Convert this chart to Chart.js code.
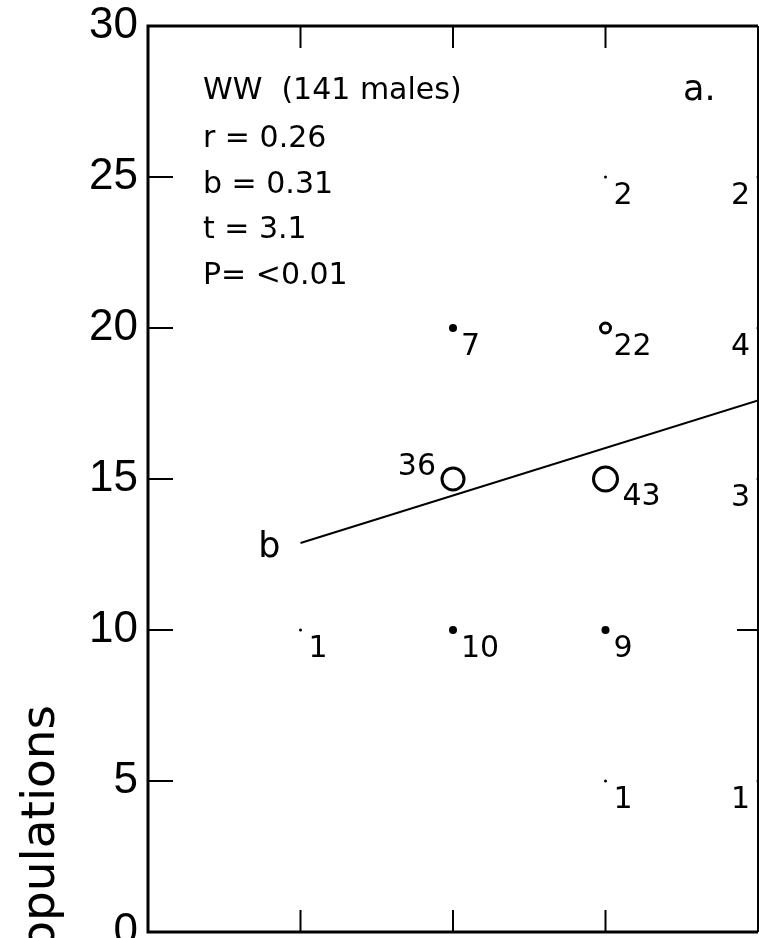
<!DOCTYPE html>
<html>
<head>
<meta charset="utf-8">
<script src="https://cdn.jsdelivr.net/npm/chart.js@4/dist/chart.umd.min.js"></script>
<style>
  html, body { margin: 0; padding: 0; background: #fff; overflow: hidden; }
  #wrap { width: 759px; height: 938px; }
</style>
</head>
<body>
<div id="wrap"><canvas id="chart" width="759" height="938"></canvas></div>
<script>
// values (panel a)
var xValues = [1, 2, 2, 2, 3, 3, 3, 3, 3, 4, 4, 4, 4];
var yValues = [10, 20, 15, 10, 25, 20, 15, 10, 5, 25, 20, 15, 5];
var counts  = [1, 7, 36, 10, 2, 22, 43, 9, 1, 2, 4, 3, 1];

// regression line ends
var regX = [1, 4];
var regY = [12.88, 17.6];

var xTicks = [1, 2, 3];
var yTicks = [0, 5, 10, 15, 20, 25, 30];

var statLines = ['WW  (141 males)', 'r = 0.26', 'b = 0.31', 't = 3.1', 'P= <0.01'];
var panelLabel = 'a.';
var lineLabel = 'b';
var yTitle = 'Number of populations';

var FONT = '"DejaVu Sans", "Liberation Sans", sans-serif';
var TICKFONT = '"Liberation Sans", "DejaVu Sans", sans-serif';

// marker size/fill depends on how many males sit at the point
function radiusFor(n) {
  if (n >= 40) return 12;
  if (n >= 30) return 11;
  if (n >= 20) return 5;
  if (n >= 5) return 4;
  return 1.5;
}
function isOpen(n) { return n >= 20; }

var points = xValues.map(function (x, i) { return { x: x, y: yValues[i] }; });
var regLine = regX.map(function (x, i) { return { x: x, y: regY[i] }; });

var decorPlugin = {
  id: 'decor',
  afterDraw: function (chart) {
    var ctx = chart.ctx;
    var a = chart.chartArea;
    var xs = chart.scales.x, ys = chart.scales.y;
    ctx.save();

    // frame
    ctx.strokeStyle = '#000';
    ctx.lineWidth = 3;
    ctx.beginPath();
    ctx.moveTo(a.right, a.top);
    ctx.lineTo(a.left, a.top);
    ctx.lineTo(a.left, a.bottom);
    ctx.lineTo(a.right, a.bottom);
    ctx.stroke();
    ctx.lineWidth = 2;
    ctx.beginPath();
    ctx.moveTo(a.right, a.top);
    ctx.lineTo(a.right, a.bottom);
    ctx.stroke();

    // inward ticks
    ctx.lineWidth = 2;
    ctx.beginPath();
    xTicks.forEach(function (v) {
      var px = xs.getPixelForValue(v);
      ctx.moveTo(px, a.top); ctx.lineTo(px, a.top + 22);
      ctx.moveTo(px, a.bottom); ctx.lineTo(px, a.bottom - 22);
    });
    yTicks.slice(1, -1).forEach(function (v) {
      var py = ys.getPixelForValue(v);
      ctx.moveTo(a.left, py); ctx.lineTo(a.left + 25, py);
    });
    var p10 = ys.getPixelForValue(10);
    ctx.moveTo(a.right, p10); ctx.lineTo(a.right - 21, p10);
    ctx.stroke();

    // count labels beside the markers
    ctx.fillStyle = '#000';
    ctx.font = '30px ' + FONT;
    ctx.textBaseline = 'alphabetic';
    points.forEach(function (p, i) {
      var px = xs.getPixelForValue(p.x);
      var py = ys.getPixelForValue(p.y);
      var txt = String(counts[i]);
      if (p.x === 4) {
        ctx.textAlign = 'right';
        ctx.fillText(txt, px - 8, py + 27);
      } else if (counts[i] >= 30 && p.x === 2) {
        ctx.textAlign = 'right';
        ctx.fillText(txt, px - 17, py - 4);
      } else if (counts[i] >= 30) {
        ctx.textAlign = 'left';
        ctx.fillText(txt, px + 17, py + 26);
      } else {
        ctx.textAlign = 'left';
        ctx.fillText(txt, px + 8, py + 27);
      }
    });

    // "b" at the start of the regression line
    var bx = xs.getPixelForValue(regX[0]);
    var by = ys.getPixelForValue(regY[0]);
    ctx.font = '35px ' + FONT;
    ctx.textAlign = 'right';
    ctx.fillText(lineLabel, bx - 20, by + 14);

    // stats block
    ctx.font = '30px ' + FONT;
    ctx.textAlign = 'left';
    var baselines = [99, 147, 193, 238, 284];
    statLines.forEach(function (s, i) {
      ctx.fillText(s, 203, baselines[i]);
    });
    ctx.font = '35px ' + FONT;
    ctx.fillText(panelLabel, 683, 100);

    // y axis title, cropped by the picture edge
    ctx.translate(54, 705);
    ctx.rotate(-Math.PI / 2);
    ctx.font = '47px ' + FONT;
    ctx.textAlign = 'right';
    ctx.fillText(yTitle, 0, 0);

    ctx.restore();
  }
};

var ctx = document.getElementById('chart').getContext('2d');
var chart = new Chart(ctx, {
  type: 'scatter',
  data: {
    datasets: [
      {
        label: 'Males',
        data: points,
        pointStyle: 'circle',
        pointRadius: counts.map(radiusFor),
        pointHoverRadius: counts.map(radiusFor),
        pointBackgroundColor: counts.map(function (n) { return isOpen(n) ? '#fff' : '#000'; }),
        pointBorderColor: '#000',
        pointBorderWidth: counts.map(function (n) { return isOpen(n) ? 3 : 0; }),
        clip: false
      },
      {
        type: 'line',
        label: 'Regression',
        data: regLine,
        borderColor: '#000',
        borderWidth: 2,
        pointRadius: 0,
        fill: false,
        tension: 0
      }
    ]
  },
  options: {
    responsive: false,
    maintainAspectRatio: false,
    animation: false,
    layout: { autoPadding: false, padding: { top: 26, right: 1, left: 0, bottom: 0 } },
    scales: {
      x: {
        type: 'linear',
        min: 0,
        max: 4,
        grid: { display: false },
        border: { display: false },
        ticks: { display: false },
        afterFit: function (scale) {
          scale.height = 6;
          scale.paddingLeft = 0; scale.paddingRight = 0;
        }
      },
      y: {
        min: 0,
        max: 30,
        grid: { display: false, drawTicks: false },
        border: { display: false },
        afterBuildTicks: function (scale) {
          scale.ticks = yTicks.map(function (v) { return { value: v }; });
        },
        ticks: {
          color: '#000',
          padding: 10,
          font: { family: TICKFONT, size: 44 }
        },
        afterFit: function (scale) {
          scale.width = 148;
          scale.paddingTop = 0; scale.paddingBottom = 0;
        }
      }
    },
    plugins: {
      legend: { display: false },
      tooltip: { enabled: false }
    }
  },
  plugins: [decorPlugin]
});
</script>
</body>
</html>
